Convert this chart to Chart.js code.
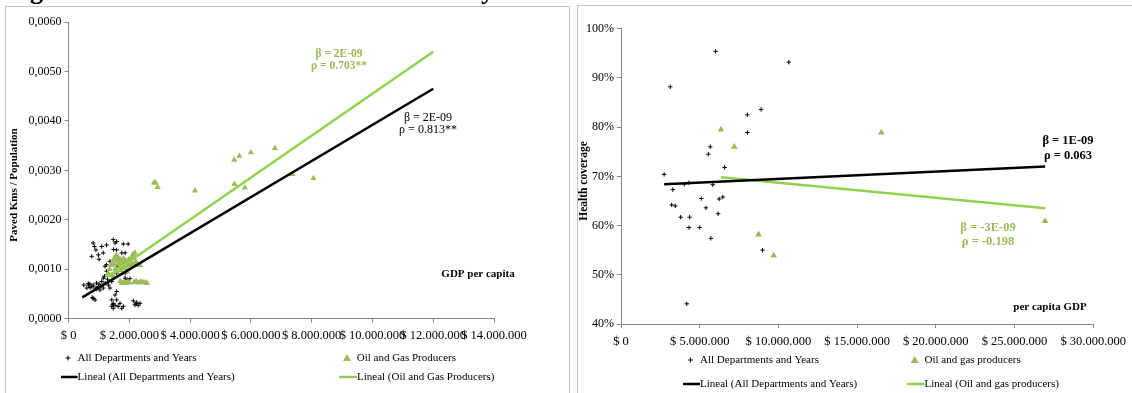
<!DOCTYPE html>
<html>
<head>
<meta charset="utf-8">
<script src="https://cdn.jsdelivr.net/npm/chart.js@4/dist/chart.umd.min.js"></script>
<style>
  body { margin: 0; background: #fff; }
  #wrap { position: relative; width: 1132px; height: 393px; overflow: hidden; }
  .frame { position: absolute; border: 1px solid #c4c4c4; }
  .cut { position: absolute; font: bold 26px "Liberation Serif"; line-height: 26px; top: -22px; }
  canvas { position: absolute; top: 0; }
</style>
</head>
<body>
<div id="wrap">
  <span class="cut" style="left:30px">g</span>
  <span class="cut" style="left:481px">y</span>
  <div class="frame" style="left:5px; top:6px; width:563px; height:400px"></div>
  <div class="frame" style="left:577px; top:5px; width:600px; height:400px"></div>
  <canvas id="left" width="567" height="393" style="left:0"></canvas>
  <canvas id="right" width="565" height="393" style="left:567px"></canvas>
</div>
<script>
// ---- left chart: paved kms / population vs GDP per capita ----
const allDepts = [
  [810000,0.00153],[850000,0.00146],[900000,0.00139],[760000,0.00126],[980000,0.00129],
  [1140000,0.00133],[1090000,0.00146],[1250000,0.00149],[1470000,0.00160],[1530000,0.00153],
  [1360000,0.00116],[1250000,0.00109],[1580000,0.00156],[1800000,0.00151],[1960000,0.00151],
  [1750000,0.00133],[1860000,0.00133],[1580000,0.00139],[1630000,0.00119],[1200000,0.00106],
  [1250000,0.00096],[1530000,0.00099],[1580000,0.00092],[1140000,0.00082],[1090000,0.00075],
  [1200000,0.00072],[1310000,0.00068],[980000,0.00065],[870000,0.00062],[760000,0.00065],
  [650000,0.00068],[600000,0.00062],[920000,0.00072],[1030000,0.00058],[1140000,0.00062],
  [1360000,0.00062],[1420000,0.00075],[810000,0.00068],[810000,0.00041],[870000,0.00038],
  [780000,0.00043],[1420000,0.00038],[1470000,0.00031],[1420000,0.00025],[1530000,0.00027],
  [1470000,0.00021],[1530000,0.00048],[1580000,0.00038],[1690000,0.00031],[1630000,0.00025],
  [1750000,0.00021],[1800000,0.00025],[2130000,0.00036],[2240000,0.00033],[2180000,0.00028],
  [2290000,0.00027],[2350000,0.00031],[1580000,0.00055],[1860000,0.00082],[1940000,0.00079],
  [2020000,0.00081],[1860000,0.00092],[500000,0.00068],[650000,0.00071],[710000,0.00063],
  [1000000,0.00070],[1050000,0.00066],[1180000,0.00086],[1280000,0.00080],[700000,0.00070],
  [920000,0.00060],[1600000,0.00105],[1900000,0.00110],[1480000,0.00140],[1000000,0.00120],
  [2220000,0.00030],[1450000,0.00028]
];
const oilGas = [
  [2810000,0.00275],[2860000,0.00275],[2930000,0.00266],[4160000,0.00259],[5450000,0.00321],
  [5620000,0.00329],[6000000,0.00336],[6790000,0.00345],[5460000,0.00272],[5800000,0.00265],
  [7370000,0.00292],[8060000,0.00284],
  [1300000,0.00092],[1350000,0.00100],[1400000,0.00108],[1450000,0.00115],[1500000,0.00122],
  [1520000,0.00110],[1550000,0.00102],[1580000,0.00095],[1600000,0.00118],[1620000,0.00125],
  [1650000,0.00112],[1680000,0.00105],[1700000,0.00120],[1720000,0.00098],[1750000,0.00115],
  [1780000,0.00108],[1800000,0.00122],[1820000,0.00102],[1850000,0.00112],[1880000,0.00118],
  [1900000,0.00105],[1920000,0.00095],[1950000,0.00112],[1980000,0.00120],[2000000,0.00108],
  [2050000,0.00115],[2080000,0.00125],[2100000,0.00110],[2120000,0.00130],[2150000,0.00122],
  [2180000,0.00133],[2200000,0.00115],[2250000,0.00112],[2350000,0.00108],[1420000,0.00088],
  [1480000,0.00085],[1560000,0.00128],
  [1700000,0.00076],[1750000,0.00072],[1820000,0.00074],[1880000,0.00072],[1950000,0.00075],
  [2000000,0.00073],[2150000,0.00074],[2220000,0.00076],[2300000,0.00073],[2380000,0.00075],
  [2450000,0.00074],[2520000,0.00073],[2580000,0.00072]
];
const allTrend = [[450000,0.00043],[12000000,0.00465]];
const oilTrend = [[1270000,0.00085],[12000000,0.00540]];
const leftXTicks = [0, 14000000, 2000000];   // min, max, step
const leftYTicks = [0, 0.006, 0.001];

// ---- right chart: health coverage vs per capita GDP ----
const allDeptsR = [
  [2740000,0.704],[3130000,0.882],[3290000,0.673],[6010000,0.954],[10660000,0.932],
  [8030000,0.825],[8900000,0.836],[8030000,0.789],[5670000,0.760],[5550000,0.745],
  [6580000,0.718],[5830000,0.683],[4320000,0.687],[4020000,0.684],[5100000,0.655],
  [6240000,0.654],[6470000,0.658],[3220000,0.642],[3450000,0.640],[3790000,0.617],
  [4360000,0.617],[4320000,0.596],[5000000,0.596],[5400000,0.636],[6170000,0.624],
  [5710000,0.574],[8990000,0.550],[4180000,0.441]
];
const oilGasR = [
  [6350000,0.795],[7200000,0.760],[16540000,0.789],[8740000,0.582],[9700000,0.539],[26940000,0.609]
];
const allTrendR = [[2740000,0.684],[26950000,0.720]];
const oilTrendR = [[6350000,0.698],[26950000,0.635]];
const rightXTicks = [0, 30000000, 5000000];
const rightYTicks = [0.4, 1.0, 0.1];

const GREEN_PT = '#9bbb59';
const GREEN_LN = '#92d050';
const AXIS = '#868686';
const SERIF = '"Liberation Serif", "Times New Roman", serif';

const pesos = v => '$ ' + String(Math.round(v)).replace(/\B(?=(\d{3})+(?!\d))/g, '.');
const pts = arr => arr.map(p => ({x: p[0], y: p[1]}));

function overlay(texts, legend) {
  return {
    id: 'overlay',
    afterDraw(chart) {
      const c = chart.ctx;
      c.save();
      c.textBaseline = 'middle';
      texts.forEach(t => {
        c.font = t.font;
        c.fillStyle = t.color || '#000';
        c.textAlign = 'center';
        if (t.rotate) {
          c.save(); c.translate(t.x, t.y); c.rotate(-Math.PI / 2);
          c.fillText(t.text, 0, 0); c.restore();
        } else {
          c.fillText(t.text, t.x, t.y);
        }
      });
      legend.forEach(l => {
        if (l.kind === 'plus') {
          c.strokeStyle = '#000'; c.lineWidth = 1;
          c.beginPath();
          c.moveTo(l.mx - 2.5, l.y); c.lineTo(l.mx + 2.5, l.y);
          c.moveTo(l.mx, l.y - 2.5); c.lineTo(l.mx, l.y + 2.5);
          c.stroke();
        } else if (l.kind === 'tri') {
          c.fillStyle = GREEN_PT;
          c.beginPath();
          c.moveTo(l.mx, l.y - 4); c.lineTo(l.mx + 4, l.y + 3); c.lineTo(l.mx - 4, l.y + 3);
          c.closePath(); c.fill();
        } else {
          c.strokeStyle = l.color; c.lineWidth = 2.5;
          c.beginPath(); c.moveTo(l.mx, l.y); c.lineTo(l.tx, l.y); c.stroke();
        }
        c.font = '11px ' + SERIF;
        c.fillStyle = '#000';
        c.textAlign = 'left';
        c.fillText(l.text, l.tx, l.y + 0.5);
      });
      c.restore();
    }
  };
}

function axes(xt, yt, yFmt, yW, xH) {
  return {
    x: {
      type: 'linear', min: xt[0], max: xt[1],
      ticks: {stepSize: xt[2], callback: pesos, font: {family: SERIF, size: 12.5}, color: '#000', padding: 6, maxRotation: 0, autoSkip: false},
      grid: {drawOnChartArea: false, tickLength: 4, color: AXIS},
      border: {color: AXIS},
      afterFit: s => { s.height = xH; }
    },
    y: {
      type: 'linear', min: yt[0], max: yt[1],
      ticks: {stepSize: yt[2], callback: yFmt, font: {family: SERIF, size: 12}, color: '#000', padding: 3},
      grid: {drawOnChartArea: false, tickLength: 4, color: AXIS},
      border: {color: AXIS},
      afterFit: s => { s.width = yW; }
    }
  };
}

function datasets(all, oil, tAll, tOil, triR) {
  return [
    {data: pts(tAll), showLine: true, borderColor: '#000', borderWidth: 2.5, pointRadius: 0, order: 0},
    {data: pts(tOil), showLine: true, borderColor: GREEN_LN, borderWidth: 2.5, pointRadius: 0, order: 0},
    {data: pts(oil), pointStyle: 'triangle', pointRadius: triR, backgroundColor: GREEN_PT, borderColor: GREEN_PT, borderWidth: 0, order: 1},
    {data: pts(all), pointStyle: 'cross', pointRadius: 2.2, borderColor: '#000', borderWidth: 1, order: 2}
  ];
}

const common = {
  responsive: false, animation: false, devicePixelRatio: 1,
  plugins: {legend: {display: false}, tooltip: {enabled: false}}
};

new Chart(document.getElementById('left'), {
  type: 'scatter',
  data: {datasets: datasets(allDepts, oilGas, allTrend, oilTrend, 3.6)},
  options: Object.assign({}, common, {
    layout: {padding: {left: 0, top: 22, right: 73, bottom: 44}},
    scales: axes(leftXTicks, leftYTicks, v => v.toFixed(4).replace('.', ','), 68.6, 30.3)
  }),
  plugins: [overlay([
    {text: 'β = 2E-09', x: 339, y: 54, font: 'bold 11.5px ' + SERIF, color: GREEN_PT},
    {text: 'ρ = 0.703**', x: 339, y: 66, font: 'bold 11.5px ' + SERIF, color: GREEN_PT},
    {text: 'β = 2E-09', x: 428, y: 118, font: '12px ' + SERIF},
    {text: 'ρ = 0.813**', x: 428, y: 130, font: '12px ' + SERIF},
    {text: 'GDP per capita', x: 478, y: 274, font: 'bold 11px ' + SERIF},
    {text: 'Paved Kms / Population', x: 14, y: 185, font: 'bold 11px ' + SERIF, rotate: true}
  ], [
    {kind: 'plus', mx: 68, tx: 77.6, y: 358, text: 'All Departments and Years'},
    {kind: 'tri', mx: 347, tx: 356.7, y: 358, text: 'Oil and Gas Producers'},
    {kind: 'line', color: '#000', mx: 61, tx: 77.6, y: 377, text: 'Lineal (All Departments and Years)'},
    {kind: 'line', color: GREEN_LN, mx: 339, tx: 357, y: 377, text: 'Lineal (Oil and Gas Producers)'}
  ])]
});

new Chart(document.getElementById('right'), {
  type: 'scatter',
  data: {datasets: datasets(allDeptsR, oilGasR, allTrendR, oilTrendR, 3.9)},
  options: Object.assign({}, common, {
    layout: {padding: {left: 0, top: 28.7, right: 38, bottom: 39}},
    scales: axes(rightXTicks, rightYTicks, v => Math.round(v * 100) + '%', 54, 30)
  }),
  plugins: [overlay([
    {text: 'β = 1E-09', x: 501, y: 141, font: 'bold 12.5px ' + SERIF},
    {text: 'ρ = 0.063', x: 501, y: 156, font: 'bold 12.5px ' + SERIF},
    {text: 'β = -3E-09', x: 421, y: 228, font: 'bold 12.5px ' + SERIF, color: GREEN_PT},
    {text: 'ρ = -0.198', x: 421, y: 242, font: 'bold 12.5px ' + SERIF, color: GREEN_PT},
    {text: 'per capita GDP', x: 483, y: 307, font: 'bold 11px ' + SERIF},
    {text: 'Health coverage', x: 17, y: 181, font: 'bold 11.5px ' + SERIF, rotate: true}
  ], [
    {kind: 'plus', mx: 123.5, tx: 133, y: 360, text: 'All Departments and Years'},
    {kind: 'tri', mx: 347.7, tx: 357.5, y: 360, text: 'Oil and gas producers'},
    {kind: 'line', color: '#000', mx: 116, tx: 133, y: 384, text: 'Lineal (All Departments and Years)'},
    {kind: 'line', color: GREEN_LN, mx: 340, tx: 357.5, y: 384, text: 'Lineal (Oil and gas producers)'}
  ])]
});
</script>
</body>
</html>
